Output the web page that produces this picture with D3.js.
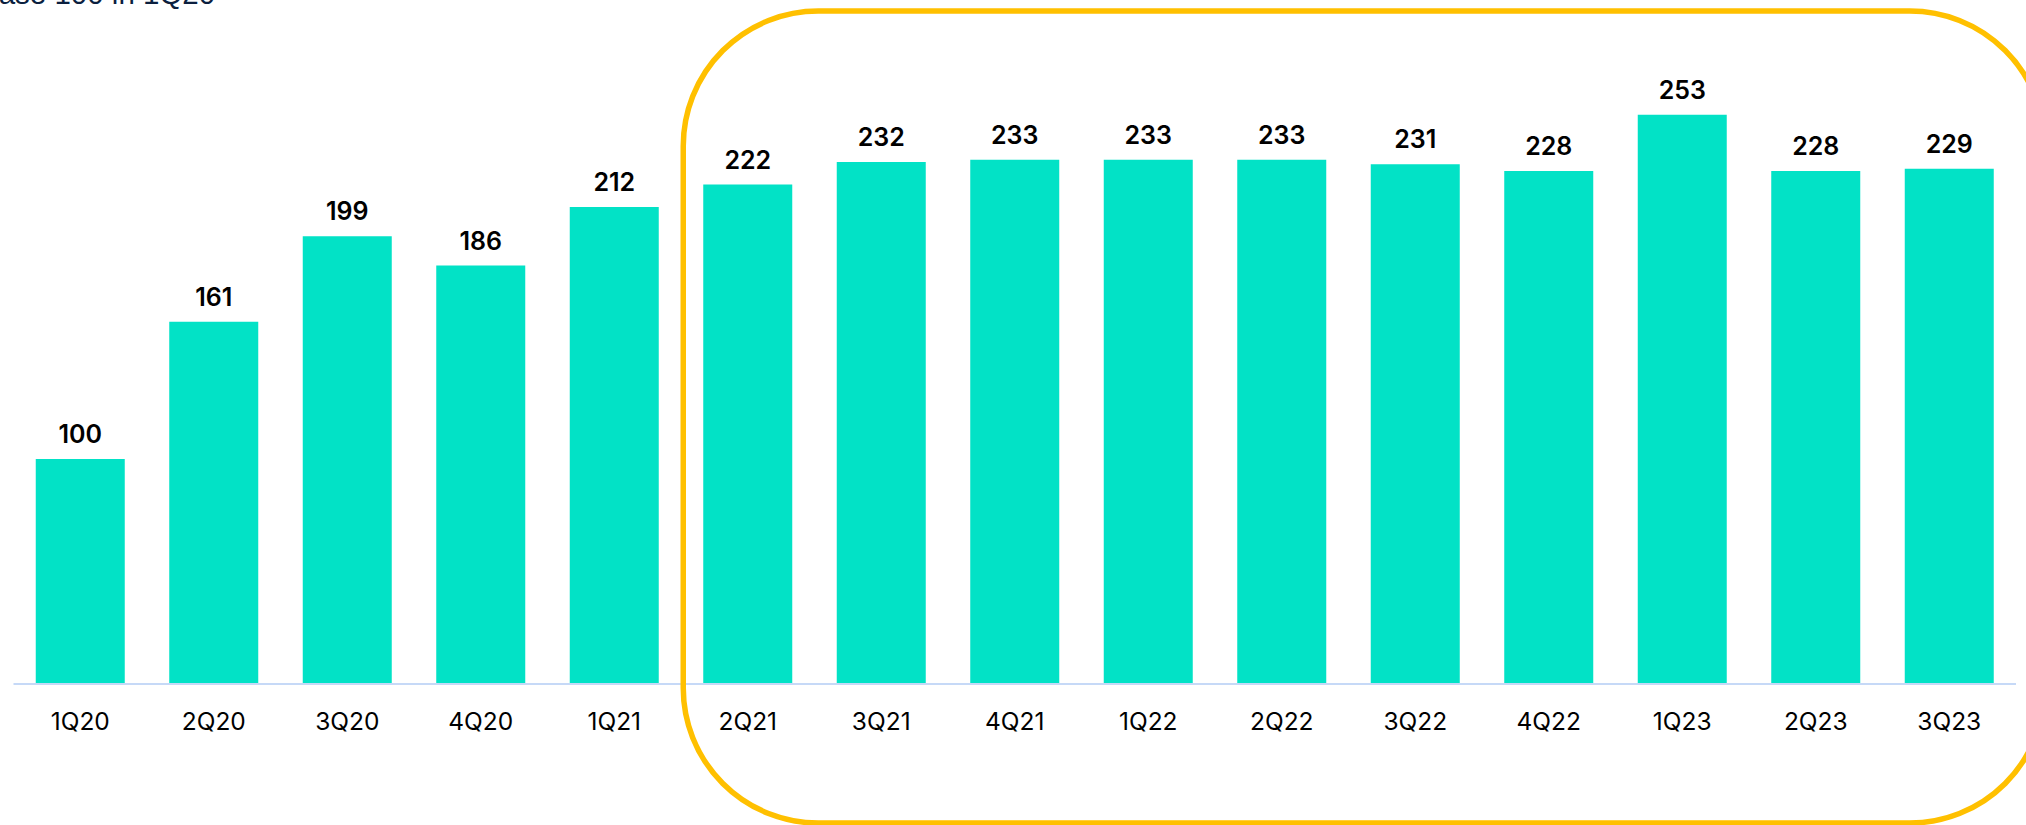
<!DOCTYPE html>
<html>
<head>
<meta charset="utf-8">
<script src="https://cdn.jsdelivr.net/npm/d3@7"></script>
<style>
  html, body { margin: 0; padding: 0; background: #ffffff; overflow: hidden; }
  svg { display: block; }
  .subtitle { font-family: "Liberation Sans", Arial, sans-serif; }
  .lbl { font-family: "Inter", sans-serif; }
</style>
</head>
<body>
<script>
// Quarterly index, base 100 in 1Q20
const quarters = ["1Q20","2Q20","3Q20","4Q20","1Q21","2Q21","3Q21","4Q21","1Q22","2Q22","3Q22","4Q22","1Q23","2Q23","3Q23"];
const indexValues = [100,161,199,186,212,222,232,233,233,233,231,228,253,228,229];
// Highlighted stretch of quarters
const highlightFrom = "2Q21";
const highlightTo = "3Q23";
const subtitle = "Base 100 in 1Q20";

const W = 2026, H = 825;
const baseY = 684;

const svg = d3.select("body").append("svg")
  .attr("width", W).attr("height", H);

const x = d3.scaleBand()
  .domain(quarters)
  .range([13.5, 2016])
  .paddingInner(1/3)
  .paddingOuter(1/6);

const y = d3.scaleLinear()
  .domain([0, 300])
  .range([baseY, baseY - 675]);

// subtitle, running off the top-left edge
svg.append("text")
  .attr("class", "subtitle")
  .attr("x", -21).attr("y", 4)
  .attr("font-size", 29.5)
  .attr("fill", "#0b1f3f")
  .text(subtitle);

// bars
svg.append("g").selectAll("rect")
  .data(quarters)
  .join("rect")
  .attr("x", d => x(d))
  .attr("width", x.bandwidth())
  .attr("y", (d, i) => y(indexValues[i]))
  .attr("height", (d, i) => y(0) - y(indexValues[i]))
  .attr("fill", "#02E2C6");

// baseline
svg.append("line")
  .attr("x1", x.range()[0]).attr("x2", x.range()[1])
  .attr("y1", baseY).attr("y2", baseY)
  .attr("stroke", "#c6d9f7").attr("stroke-width", 2);

// value labels
svg.append("g").selectAll("text")
  .data(quarters)
  .join("text")
  .attr("class", "lbl")
  .attr("x", d => x(d) + x.bandwidth() / 2)
  .attr("y", (d, i) => y(indexValues[i]) - 16)
  .attr("text-anchor", "middle")
  .attr("font-weight", 600)
  .attr("font-size", 25)
  .attr("fill", "#000")
  .text((d, i) => indexValues[i]);

// category labels
const xAxis = d3.axisBottom(x).tickSize(0).tickPadding(0);
const gx = svg.append("g")
  .attr("transform", `translate(0,${baseY})`)
  .call(xAxis);
gx.select(".domain").remove();
gx.selectAll("text")
  .attr("class", "lbl")
  .attr("dy", null)
  .attr("y", 730 - baseY)
  .attr("font-size", 24.5)
  .attr("fill", "#000");

// rounded frame around the highlighted quarters
const x0 = x(highlightFrom) - 20;
const x1 = x(highlightTo) + x.bandwidth() + 51;
svg.append("rect")
  .attr("x", x0).attr("y", 11)
  .attr("width", x1 - x0).attr("height", 812)
  .attr("rx", 135).attr("ry", 135)
  .attr("fill", "none")
  .attr("stroke", "#FFC000")
  .attr("stroke-width", 5.5);
</script>
</body>
</html>
